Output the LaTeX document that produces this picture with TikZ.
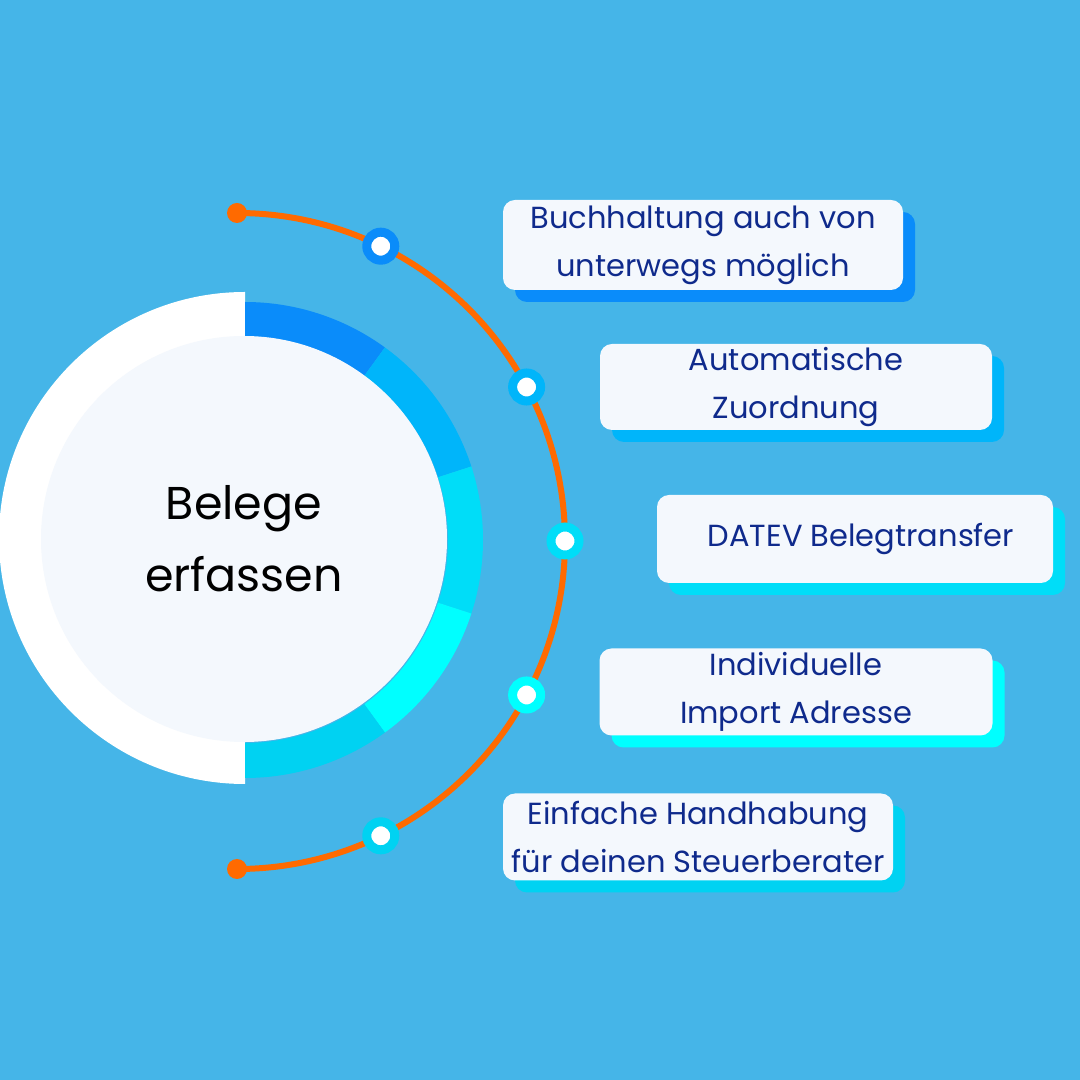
\documentclass[tikz,border=0pt]{standalone}
\usepackage{fontspec}
\setmainfont{Poppins}
\usetikzlibrary{calc,shadows}

\definecolor{bg}{HTML}{45B5E8}
\definecolor{segA}{HTML}{0A8CFA}
\definecolor{segB}{HTML}{00B5FA}
\definecolor{segC}{HTML}{00DDF8}
\definecolor{segD}{HTML}{00FFFF}
\definecolor{segE}{HTML}{00D2F2}
\definecolor{pale}{HTML}{F4F8FD}
\definecolor{navy}{HTML}{0F2A8C}
\definecolor{orangeline}{HTML}{FF6A00}

\tikzset{
  feature/.style={fill=pale, rounded corners=12pt, align=center, text=navy,
    font=\fontsize{30.5}{48}\selectfont, inner sep=0pt,
    drop shadow={fill=#1, opacity=1, shadow xshift=12pt, shadow yshift=-12pt}},
  marker/.style={circle, draw=#1, line width=9pt, fill=white,
    minimum size=28pt, inner sep=0pt},
}

\begin{document}
\begin{tikzpicture}[x=1pt,y=1pt]
\useasboundingbox (0,0) rectangle (1080,1080);
\fill[bg] (0,0) rectangle (1080,1080);

% hub with coloured ring
\coordinate (ctr) at (245,540);
\fill[white] (245,788) arc[start angle=90, end angle=270, radius=246] -- cycle;
\foreach \a/\c in {90/segA,54/segB,18/segC,-18/segD,-54/segE}
  \fill[\c] ($(ctr)+(\a:238)$) arc[start angle=\a, delta angle=-36, radius=238]
    -- ($(ctr)+(\a-36:203)$) arc[start angle=\a-36, delta angle=36, radius=203] -- cycle;
\node[circle, fill=pale, minimum size=406pt, inner sep=0pt, align=center,
  font=\fontsize{46}{72}\selectfont] (hub) at (244,541) {Belege\\erfassen};

% orange arc
\coordinate (arcctr) at (237,539);
\coordinate (arctop) at (237,867);
\coordinate (arcbot) at (237,211);
\draw[orangeline, line width=6pt] (arctop) arc[start angle=90, end angle=-90, radius=328];
\fill[orangeline] (arctop) circle (10);
\fill[orangeline] (arcbot) circle (10);

\foreach \i/\a/\c in {1/64/segA,2/28/segB,3/0/segC,4/-28/segD,5/-64/segE}
  \node[marker=\c] (m\i) at ($(arcctr)+(\a:328)$) {};

% feature boxes
\node[feature=segA, minimum width=400pt, minimum height=90pt] (b1) at (703,835)
  {Buchhaltung auch von\\unterwegs möglich};
\node[feature=segB, minimum width=392pt, minimum height=86pt] (b2) at (796,693)
  {Automatische\\Zuordnung};
\node[feature=segC, minimum width=396pt, minimum height=88pt] (b3) at (855,541)
  {\hspace*{12pt}DATEV Belegtransfer};
\node[feature=segD, minimum width=393pt, minimum height=87pt] (b4) at (796,388)
  {Individuelle\\Import Adresse};
\node[feature=segE, minimum width=390pt, minimum height=87pt] (b5) at (698,243)
  {Einfache Handhabung\\für deinen Steuerberater};
\end{tikzpicture}
\end{document}
